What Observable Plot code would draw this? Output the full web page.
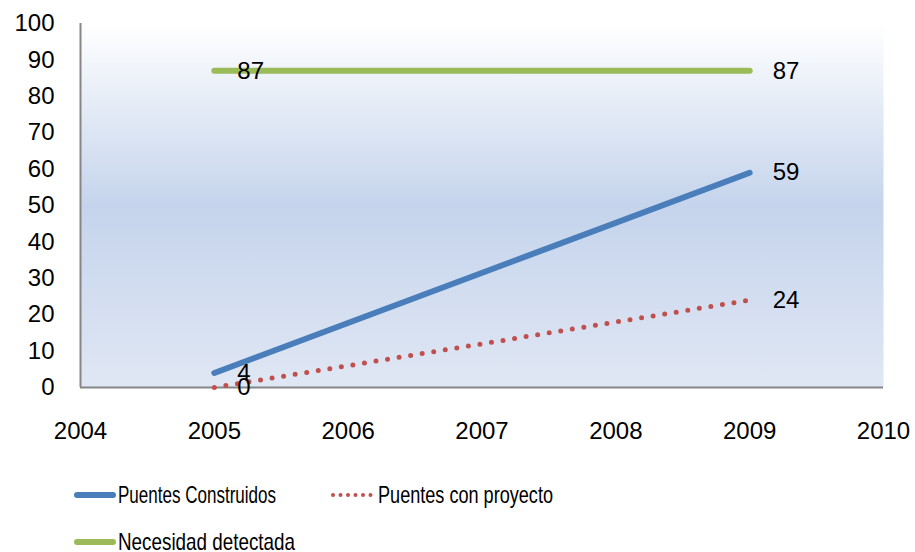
<!DOCTYPE html>
<html><head><meta charset="utf-8">
<script src="https://cdn.jsdelivr.net/npm/d3@7"></script>
<script src="https://cdn.jsdelivr.net/npm/@observablehq/plot@0.6"></script>
<style>
body{margin:0;background:#fff}
#chart{position:relative;width:915px;height:552px;overflow:hidden}
#chart svg{display:block}
</style>
</head><body><div id="chart"></div>
<script>
const years = [2005, 2009];
const construidos = [4, 59];
const conProyecto = [0, 24];
const necesidad = [87, 87];
const seriesNames = ["Puentes Construidos", "Puentes con proyecto", "Necesidad detectada"];
const seriesColors = ["#4a7ebb", "#c0504d", "#9bbb59"];
const xTicks = [2004, 2005, 2006, 2007, 2008, 2009, 2010];
const yTicks = [0, 10, 20, 30, 40, 50, 60, 70, 80, 90, 100];

const seriesValues = [construidos, conProyecto, necesidad];
const rows = [];
seriesNames.forEach((name, i) => {
  years.forEach((yr, j) => rows.push({series: name, year: yr, value: seriesValues[i][j]}));
});
const bySeries = name => rows.filter(d => d.series === name);

const FONT = "'Liberation Sans', Arial, sans-serif";

const defsMark = () => {
  const defs = d3.create("svg:defs");
  const g = defs.append("linearGradient").attr("id", "bgGrad")
    .attr("x1", 0).attr("y1", 0).attr("x2", 0).attr("y2", 1);
  g.append("stop").attr("offset", "0%").attr("stop-color", "#ffffff");
  g.append("stop").attr("offset", "50%").attr("stop-color", "#c5d4ec");
  g.append("stop").attr("offset", "100%").attr("stop-color", "#e0e7f4");
  return defs.node();
};

const plot = Plot.plot({
  width: 915,
  height: 460,
  marginLeft: 80,
  marginRight: 32,
  marginTop: 23,
  marginBottom: 73,
  style: {fontFamily: FONT, fontSize: "24px", color: "#000", background: "transparent"},
  x: {domain: [2004, 2010], ticks: xTicks, tickFormat: d => String(d), tickSize: 0, tickPadding: 34, label: null},
  y: {domain: [0, 100], ticks: yTicks, tickSize: 0, tickPadding: 26, label: null},
  marks: [
    defsMark,
    Plot.frame({fill: "url(#bgGrad)", stroke: null}),
    Plot.ruleX([2004], {stroke: "#868686", strokeWidth: 2}),
    Plot.ruleY([0], {stroke: "#868686", strokeWidth: 2}),
    Plot.line(bySeries(seriesNames[2]), {x: "year", y: "value", stroke: seriesColors[2], strokeWidth: 6, strokeLinecap: "round"}),
    Plot.line(bySeries(seriesNames[0]), {x: "year", y: "value", stroke: seriesColors[0], strokeWidth: 6, strokeLinecap: "round"}),
    Plot.line(bySeries(seriesNames[1]), {x: "year", y: "value", stroke: seriesColors[1], strokeWidth: 5, strokeLinecap: "round", strokeDasharray: "0 11.7"}),
    Plot.text(rows, {x: "year", y: "value", text: d => String(d.value), textAnchor: "start", dx: 23, fontSize: 24, fill: "#000"})
  ]
});
const chart = document.getElementById("chart");
chart.appendChild(plot);

// legend below the plot
const legend = d3.create("svg").attr("width", 915).attr("height", 92)
  .style("font-family", FONT).style("font-size", "24px");
const legendItems = [
  {x: 77, y: 35, len: 36, tx: 118, tw: 158},
  {x: 333, y: 35, len: 38, tx: 378, tw: 175},
  {x: 77, y: 82, len: 36, tx: 118, tw: 177}
];
legendItems.forEach((it, i) => {
  const g = legend.append("g");
  const ln = g.append("line").attr("x1", it.x).attr("x2", it.x + it.len)
    .attr("y1", it.y).attr("y2", it.y).attr("stroke", seriesColors[i])
    .attr("stroke-linecap", "round");
  if (i === 1) ln.attr("stroke-width", 4).attr("stroke-dasharray", "0 7.5");
  else ln.attr("stroke-width", 6);
  g.append("text").attr("x", it.tx).attr("y", it.y).attr("dy", "0.35em")
    .attr("textLength", it.tw).attr("lengthAdjust", "spacingAndGlyphs")
    .attr("fill", "#000").text(seriesNames[i]);
});
chart.appendChild(legend.node());
</script>
</body></html>
